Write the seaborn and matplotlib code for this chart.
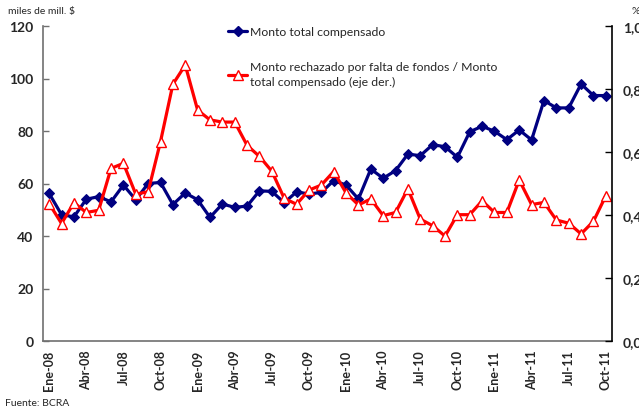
import numpy as np
import pandas as pd
import seaborn as sns
import matplotlib.pyplot as plt
from matplotlib.lines import Line2D

# months Ene-08 .. Oct-11
meses = ["Ene", "Feb", "Mar", "Abr", "May", "Jun", "Jul", "Ago", "Sep", "Oct", "Nov", "Dic"]
periodos = [f"{m}-{a:02d}" for a in range(8, 12) for m in meses][:46]

# miles de mill. $ (eje izq.)
monto_compensado = [56.2, 48.1, 47.3, 54.0, 55.0, 53.0, 59.4, 53.8, 60.0, 60.4,
                    52.0, 56.4, 53.8, 47.1, 52.2, 50.9, 51.4, 57.2, 57.0, 52.7,
                    56.8, 56.0, 56.6, 61.1, 59.4, 54.1, 65.5, 62.0, 64.9, 71.2,
                    70.6, 74.8, 74.0, 70.0, 79.7, 81.8, 79.9, 76.7, 80.4, 76.6,
                    91.6, 88.8, 88.8, 97.9, 93.5, 93.5]

# % (eje der.)
ratio_rechazado = [0.436, 0.373, 0.439, 0.408, 0.415, 0.548, 0.564, 0.466, 0.474, 0.633,
                   0.815, 0.876, 0.733, 0.702, 0.695, 0.695, 0.621, 0.586, 0.539, 0.453,
                   0.434, 0.479, 0.495, 0.538, 0.470, 0.432, 0.451, 0.398, 0.408, 0.483,
                   0.387, 0.366, 0.333, 0.401, 0.401, 0.445, 0.408, 0.408, 0.511, 0.433,
                   0.440, 0.384, 0.374, 0.340, 0.380, 0.461]

left_ticks = [0, 20, 40, 60, 80, 100, 120]
right_ticks = [0.0, 0.2, 0.4, 0.6, 0.8, 1.0]
right_labels = ["0,0", "0,2", "0,4", "0,6", "0,8", "1,0"]

df = pd.DataFrame({"idx": np.arange(len(periodos)), "periodo": periodos,
                   "monto": monto_compensado, "ratio": ratio_rechazado})

sns.set_style("white")
plt.rcParams['font.family'] = ['Lato', 'DejaVu Sans']

navy = "#000080"
red = "#FF0000"

fig = plt.figure(figsize=(6.39, 4.10), dpi=100)
ax = fig.add_axes([43/639, 1 - 342/410, (612-43)/639, (342-27)/410])
ax2 = ax.twinx()

sns.lineplot(data=df, x="idx", y="monto", ax=ax, color=navy, lw=2.3,
             marker="D", markersize=5, markeredgecolor=navy, markerfacecolor=navy)
sns.lineplot(data=df, x="idx", y="ratio", ax=ax2, color=red, lw=2.3,
             marker="^", markersize=7, markeredgecolor=red, markerfacecolor="white",
             markeredgewidth=1.0)

ax.set_xlim(-0.5, len(periodos) - 0.5)
ax.set_ylim(0, 120)
ax2.set_ylim(0, 1.0)
ax.set_xlabel("")
ax.set_ylabel("")
ax2.set_ylabel("")

# x: labels every 3 months, tick marks between categories
ax.set_xticks(df["idx"][::3])
ax.set_xticklabels(df["periodo"][::3], rotation=90, fontsize=9, fontweight="bold")
ax.set_xticks(np.arange(2.5, len(periodos), 3), minor=True)
ax.tick_params(axis="x", which="major", length=0, pad=6)
ax.tick_params(axis="x", which="minor", length=4, direction="in", color="#707070", width=1)

ax.set_yticks(left_ticks)
ax.set_yticklabels([str(t) for t in left_ticks], fontsize=10, fontweight="bold")
ax.tick_params(axis="y", length=4, direction="in", color="#707070", width=1, pad=7, left=True)

ax2.set_yticks(right_ticks)
ax2.set_yticklabels(right_labels, fontsize=10, fontweight="bold")
ax2.tick_params(axis="y", length=5, direction="in", color="black", width=1, pad=8, right=True)

for a in (ax, ax2):
    a.spines["top"].set_visible(False)
ax.spines["right"].set_visible(False)
ax.spines["left"].set_color("#707070")
ax.spines["bottom"].set_color("#707070")
ax.spines["left"].set_linewidth(1.2)
ax.spines["bottom"].set_linewidth(1.2)
ax2.spines["left"].set_visible(False)
ax2.spines["bottom"].set_visible(False)
ax2.spines["right"].set_color("black")
ax2.spines["right"].set_linewidth(1.2)

handles = [Line2D([], [], color=navy, lw=2.3, marker="D", markersize=5),
           Line2D([], [], color=red, lw=2.3, marker="^", markersize=7,
                  markerfacecolor="white", markeredgecolor=red)]
labels = ["Monto total compensado",
          "Monto rechazado por falta de fondos / Monto\ntotal compensado (eje der.)"]
leg = fig.legend(handles, labels, loc="upper left", bbox_to_anchor=(223/639, 1 - 22/410),
                 frameon=False, fontsize=8.8, handlelength=1.6, handletextpad=0.25,
                 labelspacing=2.0, borderaxespad=0)
for t in leg.get_texts():
    t.set_linespacing(1.45)

fig.text(8/639, 1 - 16/410, "miles de mill. $", fontsize=7.5, va="bottom", ha="left")
fig.text(631/639, 1 - 16/410, "%", fontsize=7.5, va="bottom", ha="left")
fig.text(5/639, 2/410, "Fuente: BCRA", fontsize=7.5, va="bottom", ha="left")

fig.savefig("out.png", dpi=100)
